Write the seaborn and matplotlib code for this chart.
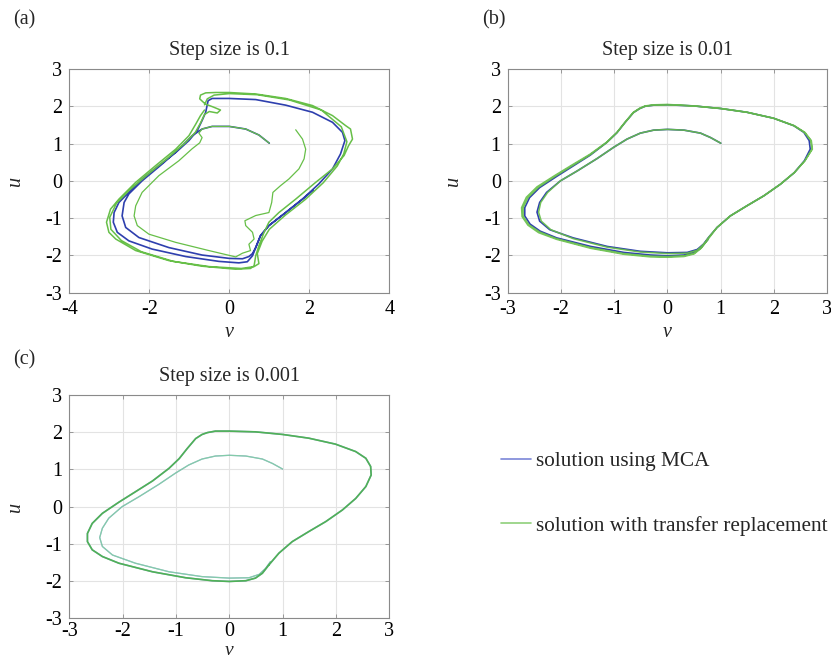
import matplotlib
matplotlib.use("Agg")
import matplotlib.pyplot as plt
from matplotlib.lines import Line2D
import seaborn as sns
import pandas as pd

# ---------------- data ----------------
# Panel (a): step size 0.1 -- MCA solution
a_mca_v = [1.0, 0.74, 0.41, 0.0, -0.43, -0.68, -0.93, -1.26, -1.68, -2.18, -2.51, -2.63,
           -2.68, -2.59, -2.26, -1.51, -0.68, 0.0, 0.33, 0.49, 0.58, 0.66, 0.78, 0.99, 1.41,
           1.83, 2.24, 2.58, 2.78, 2.89, 2.83, 2.58, 2.08, 1.41, 0.66, 0.0, -0.43, -0.53,
           -0.59, -0.68, -0.8, -1.01, -1.34, -1.76, -2.18, -2.51, -2.76, -2.88, -2.9, -2.8,
           -2.51, -1.93, -1.09, -0.26, 0.24, 0.45, 0.58, 0.66, 0.78, 0.99, 1.41, 1.83, 2.1]
a_mca_u = [1.01, 1.23, 1.39, 1.46, 1.46, 1.39, 1.21, 0.85, 0.45, 0.0, -0.35, -0.58,
           -0.94, -1.25, -1.52, -1.79, -1.99, -2.08, -2.09, -2.03, -1.95, -1.79, -1.47, -1.2,
           -0.85, -0.49, -0.08, 0.32, 0.72, 1.08, 1.3, 1.57, 1.84, 2.03, 2.18, 2.21, 2.21,
           2.15, 1.84, 1.62, 1.35, 1.08, 0.76, 0.41, 0.05, -0.31, -0.58, -0.85, -1.11, -1.38,
           -1.61, -1.83, -2.03, -2.16, -2.2, -2.17, -2.01, -1.79, -1.47, -1.2, -0.85, -0.49,
           -0.25]

# Panel (a) -- transfer replacement solution, inner strand
a_tr1_v = [1.0, 0.74, 0.41, 0.0, -0.43, -0.68, -0.76, -0.68, -0.74, -0.93, -1.26, -1.76,
           -2.18, -2.34, -2.38, -2.3, -2.01, -1.34, -0.51, 0.16, 0.33, 0.53, 0.49, 0.62,
           0.58, 0.41, 0.39, 0.66, 0.99, 1.06, 1.09, 1.28, 1.49, 1.74, 1.87, 1.91, 1.83, 1.66]
a_tr1_u = [1.01, 1.23, 1.39, 1.46, 1.46, 1.39, 1.28, 1.16, 1.02, 0.86, 0.54, 0.14,
           -0.31, -0.67, -0.94, -1.2, -1.43, -1.65, -1.87, -2.04, -1.94, -1.87, -1.7, -1.56,
           -1.38, -1.2, -1.07, -0.93, -0.85, -0.58, -0.31, -0.13, 0.05, 0.32, 0.59, 0.85,
           1.12, 1.37]

# Panel (a) -- transfer replacement solution, outer loops
a_tr2_v = [-0.62, -0.72, -0.84, -1.01, -1.34, -1.84, -2.34, -2.76, -2.97, -3.07, -3.01,
           -2.84, -2.34, -1.51, -0.68, 0.16, 0.53, 0.62, 0.66, 0.74, 0.87, 0.99, 1.24, 1.66,
           2.16, 2.58, 2.87, 2.98, 3.08, 3.03, 2.91, 2.58, 2.08, 1.41, 0.66, 0.0, -0.34,
           -0.59, -0.72, -0.74, -0.6, -0.4, -0.22, -0.3, -0.5, -0.62, -0.72, -0.85, -1.1,
           -1.55, -2.05, -2.5, -2.82, -2.99, -2.96, -2.7, -2.2, -1.4, -0.5, 0.3, 0.62, 0.74,
           0.7, 0.82, 1.0, 1.4, 1.9, 2.35, 2.7, 2.86, 2.94, 2.8, 2.3, 1.5, 0.7, 0.0, -0.38,
           -0.55, -0.62]
a_tr2_u = [1.9, 1.75, 1.52, 1.21, 0.85, 0.41, -0.04, -0.49, -0.76, -1.11, -1.38, -1.56,
           -1.87, -2.14, -2.29, -2.37, -2.35, -2.28, -2.01, -1.74, -1.38, -1.11, -0.85,
           -0.49, -0.04, 0.32, 0.68, 0.94, 1.12, 1.39, 1.48, 1.75, 2.02, 2.21, 2.33, 2.37,
           2.37, 2.36, 2.3, 2.2, 2.06, 1.98, 1.9, 1.82, 1.86, 1.78, 1.55, 1.3, 1.02, 0.6,
           0.16, -0.25, -0.6, -0.98, -1.3, -1.6, -1.9, -2.16, -2.3, -2.35, -2.3, -2.22,
           -1.95, -1.62, -1.3, -0.92, -0.5, -0.05, 0.4, 0.72, 1.05, 1.45, 1.9, 2.17, 2.31,
           2.34, 2.3, 2.2, 2.04]

# Panel (b): step size 0.01
b_mca_v = [1.0, 0.81, 0.62, 0.31, 0.0, -0.26, -0.51, -0.76, -1.01, -1.32, -1.69, -2.01,
           -2.27, -2.4, -2.45, -2.4, -2.21, -1.77, -1.13, -0.51, 0.0, 0.37, 0.56, 0.68, 0.77,
           0.93, 1.18, 1.49, 1.81, 2.12, 2.38, 2.57, 2.68, 2.66, 2.56, 2.37, 1.99, 1.49, 1.0,
           0.49, 0.0, -0.26, -0.42, -0.52, -0.64, -0.8, -0.95, -1.14, -1.45, -1.77, -2.08,
           -2.4, -2.59, -2.68, -2.68, -2.58, -2.39, -2.08, -1.44, -0.82, -0.32, 0.0, 0.31,
           0.5, 0.63, 0.76]
b_mca_u = [1.01, 1.16, 1.28, 1.36, 1.38, 1.36, 1.28, 1.12, 0.9, 0.6, 0.27, 0.0, -0.31,
           -0.58, -0.84, -1.08, -1.31, -1.53, -1.76, -1.89, -1.93, -1.92, -1.84, -1.69,
           -1.52, -1.25, -0.94, -0.67, -0.4, -0.09, 0.22, 0.54, 0.85, 1.08, 1.3, 1.48, 1.68,
           1.84, 1.94, 2.01, 2.04, 2.03, 2.0, 1.94, 1.83, 1.56, 1.29, 1.03, 0.69, 0.4, 0.12,
           -0.18, -0.45, -0.72, -0.94, -1.16, -1.35, -1.53, -1.76, -1.92, -1.99, -2.01,
           -1.99, -1.92, -1.79, -1.57]

b_tr_v = [1.0, 0.81, 0.62, 0.31, 0.0, -0.26, -0.51, -0.76, -1.01, -1.32, -1.69, -2.01,
          -2.25, -2.38, -2.42, -2.37, -2.19, -1.77, -1.13, -0.51, 0.0, 0.37, 0.56, 0.68, 0.77,
          0.93, 1.18, 1.49, 1.81, 2.12, 2.38, 2.58, 2.71, 2.69, 2.57, 2.37, 1.99, 1.49, 1.0,
          0.49, 0.0, -0.26, -0.42, -0.52, -0.64, -0.8, -0.95, -1.14, -1.45, -1.78, -2.1,
          -2.42, -2.62, -2.71, -2.71, -2.6, -2.4, -2.08, -1.44, -0.82, -0.32, 0.0, 0.31, 0.5,
          0.63, 0.76, 0.93, 1.18, 1.49, 1.81, 2.12, 2.38, 2.58, 2.72, 2.7, 2.58, 2.38, 1.99,
          1.49, 1.0, 0.49, 0.0, -0.26, -0.42, -0.52, -0.64, -0.8, -0.95, -1.14, -1.46, -1.8,
          -2.12, -2.45, -2.65, -2.74, -2.73, -2.62, -2.42, -2.08, -1.44, -0.82, -0.32, 0.0,
          0.31, 0.5, 0.63, 0.76]
b_tr_u = [1.01, 1.16, 1.28, 1.36, 1.38, 1.36, 1.28, 1.12, 0.9, 0.6, 0.27, 0.0, -0.31,
          -0.58, -0.84, -1.08, -1.31, -1.55, -1.78, -1.91, -1.95, -1.94, -1.86, -1.7, -1.52,
          -1.25, -0.94, -0.67, -0.4, -0.09, 0.22, 0.54, 0.85, 1.08, 1.3, 1.48, 1.68, 1.84,
          1.94, 2.01, 2.04, 2.03, 2.0, 1.94, 1.83, 1.56, 1.29, 1.03, 0.7, 0.41, 0.13, -0.17,
          -0.45, -0.72, -0.95, -1.18, -1.37, -1.55, -1.79, -1.95, -2.02, -2.03, -2.01,
          -1.94, -1.8, -1.57, -1.25, -0.94, -0.67, -0.4, -0.09, 0.22, 0.54, 0.85, 1.08, 1.3,
          1.48, 1.68, 1.84, 1.94, 2.01, 2.05, 2.04, 2.01, 1.95, 1.84, 1.57, 1.3, 1.04, 0.71,
          0.42, 0.14, -0.16, -0.44, -0.72, -0.96, -1.19, -1.39, -1.57, -1.81, -1.97, -2.04,
          -2.05, -2.03, -1.96, -1.81, -1.57]

# Panel (c): step size 0.001 -- transient part and closed cycle
c_in_v = [1.0, 0.81, 0.62, 0.31, 0.0, -0.26, -0.51, -0.76, -1.01, -1.32, -1.69, -2.01,
          -2.26, -2.38, -2.43, -2.38, -2.19, -1.76, -1.13, -0.51, 0.0, 0.37, 0.56, 0.68, 0.77]
c_in_u = [1.01, 1.16, 1.28, 1.36, 1.38, 1.36, 1.28, 1.12, 0.9, 0.6, 0.27, 0.0, -0.31,
          -0.58, -0.83, -1.07, -1.3, -1.52, -1.75, -1.88, -1.92, -1.91, -1.82, -1.66, -1.48]
c_out_v = [0.74, 0.93, 1.18, 1.49, 1.81, 2.12, 2.37, 2.56, 2.66, 2.65, 2.56, 2.37, 1.99,
           1.49, 1.0, 0.49, 0.0, -0.26, -0.41, -0.51, -0.63, -0.79, -0.94, -1.13, -1.44,
           -1.76, -2.07, -2.38, -2.57, -2.66, -2.66, -2.57, -2.38, -2.07, -1.44, -0.82, -0.32,
           0.0, 0.31, 0.49, 0.62, 0.74]
c_out_u = [-1.57, -1.25, -0.94, -0.67, -0.4, -0.09, 0.22, 0.54, 0.85, 1.08, 1.3, 1.48,
           1.68, 1.84, 1.94, 2.01, 2.03, 2.03, 1.99, 1.94, 1.83, 1.56, 1.29, 1.03, 0.69, 0.4,
           0.12, -0.18, -0.45, -0.72, -0.94, -1.16, -1.34, -1.52, -1.75, -1.91, -1.99, -2.01,
           -1.99, -1.92, -1.79, -1.57]

titles = ["Step size is 0.1", "Step size is 0.01", "Step size is 0.001"]
panel_tags = ["(a)", "(b)", "(c)"]
legend_labels = ["solution using MCA", "solution with transfer replacement"]
xlims = [(-4, 4), (-3, 3), (-3, 3)]
xticks = [[-4, -2, 0, 2, 4], [-3, -2, -1, 0, 1, 2, 3], [-3, -2, -1, 0, 1, 2, 3]]
yticks = [-3, -2, -1, 0, 1, 2, 3]

# ---------------- style ----------------
sns.set_theme(style="white")
plt.rcParams["font.family"] = ["Liberation Serif", "DejaVu Serif"]

BLUE = "#2e3fae"
GREEN = "#67bf48"
GREEN_C = "#4fb256"
FS_TICK = 14.5
FS_TITLE = 14.5
FS_LEG = 15.3

fig = plt.figure(figsize=(8.31, 6.64), dpi=100)
W, H = 831, 664


def add_axes(x0, y0, x1, y1):
    return fig.add_axes([x0 / W, 1 - y1 / H, (x1 - x0) / W, (y1 - y0) / H])


ax_a = add_axes(69.3, 69, 389.3, 292.7)
ax_b = add_axes(507.7, 69, 827.3, 292.7)
ax_c = add_axes(69.3, 395, 389.3, 618.3)
axes = [ax_a, ax_b, ax_c]


def draw(ax, v, u, color, lw=1.0, alpha=1.0):
    df = pd.DataFrame({"v": v, "u": u})
    sns.lineplot(data=df, x="v", y="u", sort=False, estimator=None, ax=ax,
                 color=color, lw=lw, alpha=alpha)


draw(ax_a, a_mca_v, a_mca_u, BLUE, 1.2)
draw(ax_a, a_tr1_v, a_tr1_u, GREEN, 0.9)
draw(ax_a, a_tr2_v, a_tr2_u, GREEN, 1.1)

draw(ax_b, b_mca_v, b_mca_u, BLUE, 1.2)
draw(ax_b, b_tr_v, b_tr_u, GREEN, 1.1, 0.9)

draw(ax_c, c_in_v, c_in_u, "#3f63b8", 0.9, 0.5)
draw(ax_c, c_in_v, c_in_u, "#7fd0a0", 0.9, 0.85)
draw(ax_c, c_out_v, c_out_u, BLUE, 1.1, 0.5)
draw(ax_c, c_out_v, c_out_u, GREEN_C, 1.2)

for i, ax in enumerate(axes):
    ax.set_xlim(*xlims[i])
    ax.set_ylim(-3, 3)
    ax.set_xticks(xticks[i])
    ax.set_yticks(yticks)
    ax.set_xticklabels([str(t) for t in xticks[i]])
    ax.set_yticklabels([str(t) for t in yticks])
    ax.grid(True, color="#e3e3e3", lw=0.8)
    ax.set_axisbelow(True)
    for s in ax.spines.values():
        s.set_visible(True)
        s.set_color("#8a8a8a")
        s.set_linewidth(0.8)
    ax.tick_params(direction="in", length=3, width=0.6, colors="#8a8a8a",
                   labelcolor="black", labelsize=FS_TICK, top=True, right=True,
                   bottom=True, left=True, pad=5)
    ax.set_title(titles[i], fontsize=FS_TITLE, pad=10)
    if i < 2:
        ax.set_xlabel("v", fontsize=FS_TITLE, style="italic", labelpad=3)
    else:
        ax.tick_params(axis="x", pad=3)
        ax.set_xlabel("v", fontsize=FS_TITLE - 0.5, style="italic", labelpad=0.5)
    ax.set_ylabel("u", fontsize=FS_TITLE, style="italic", labelpad=15)
    if ax.get_legend() is not None:
        ax.get_legend().remove()

fig.text(13 / W, 1 - 20 / H, panel_tags[0], fontsize=FS_TITLE, va="center", ha="left")
fig.text(482 / W, 1 - 20 / H, panel_tags[1], fontsize=FS_TITLE, va="center", ha="left")
fig.text(13 / W, 1 - 360 / H, panel_tags[2], fontsize=FS_TITLE, va="center", ha="left")

handles = [Line2D([], [], color="#7b86d8", lw=1.2), Line2D([], [], color="#8fd07a", lw=1.2)]
fig.legend(handles, legend_labels, loc="upper left", bbox_to_anchor=(493 / W, 1 - 443 / H),
           frameon=False, fontsize=FS_LEG, handlelength=1.4, handletextpad=0.2,
           labelspacing=2.1, borderaxespad=0)

fig.savefig("out.png", dpi=100)
